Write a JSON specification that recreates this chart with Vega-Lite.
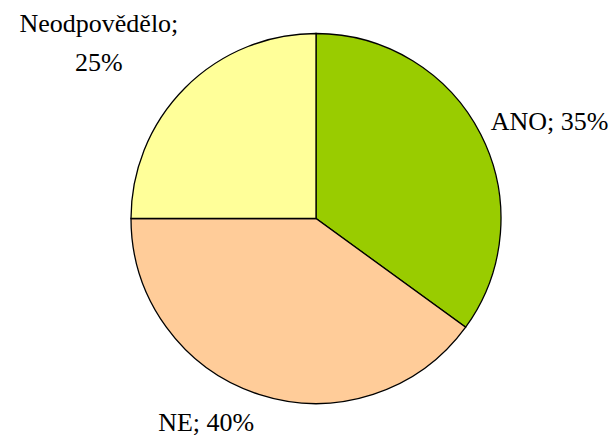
{
  "$schema": "https://vega.github.io/schema/vega-lite/v6.json",
  "width": 600,
  "height": 437,
  "autosize": {"type": "none"},
  "padding": {"left": 16, "top": 0, "right": 0, "bottom": 0},
  "background": "white",
  "config": {"view": {"stroke": null}},
  "data": {
    "values": [
      {"kategorie": "ANO", "podil": 35, "poradi": 1, "popisek": "ANO; 35%"},
      {"kategorie": "NE", "podil": 40, "poradi": 2, "popisek": "NE; 40%"},
      {"kategorie": "Neodpovědělo", "podil": 25, "poradi": 3, "popisek": "Neodpovědělo;\n25%"}
    ]
  },
  "encoding": {
    "theta": {"field": "podil", "type": "quantitative", "stack": true},
    "order": {"field": "poradi", "type": "quantitative"}
  },
  "layer": [
    {
      "mark": {"type": "arc", "outerRadius": 185, "stroke": "black", "strokeWidth": 1.3},
      "encoding": {
        "color": {
          "field": "kategorie",
          "type": "nominal",
          "scale": {"domain": ["ANO", "NE", "Neodpovědělo"], "range": ["#99CC00", "#FFCC99", "#FFFF99"]},
          "legend": null
        }
      }
    },
    {
      "mark": {"type": "text", "radius": 196, "align": "left", "baseline": "alphabetic", "font": "Liberation Serif", "fontSize": 26, "color": "black"},
      "encoding": {
        "text": {"condition": {"test": "datum.kategorie === 'ANO'", "field": "popisek"}, "value": ""}
      }
    },
    {
      "mark": {"type": "text", "radius": 200, "dy": 22, "align": "right", "baseline": "alphabetic", "font": "Liberation Serif", "fontSize": 26, "color": "black"},
      "encoding": {
        "text": {"condition": {"test": "datum.kategorie === 'NE'", "field": "popisek"}, "value": ""}
      }
    },
    {
      "mark": {"type": "text", "radius": 307, "dy": 31, "align": "center", "baseline": "alphabetic", "lineBreak": "\n", "lineHeight": 39, "font": "Liberation Serif", "fontSize": 26, "color": "black"},
      "encoding": {
        "text": {"condition": {"test": "datum.kategorie === 'Neodpovědělo'", "field": "popisek"}, "value": ""}
      }
    }
  ]
}
